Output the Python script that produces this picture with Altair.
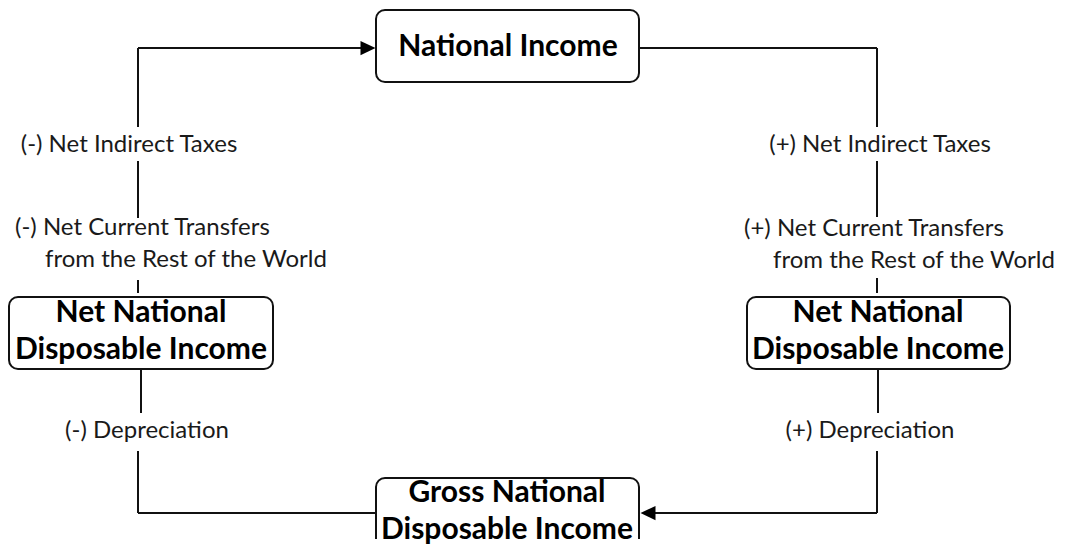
import altair as alt
import pandas as pd

# Diagram content (image pixel coordinates)
box_names = ["National Income", "Net National Disposable Income (L)",
             "Net National Disposable Income (R)", "Gross National Disposable Income"]
box_x1 = [376, 9, 747, 376]
box_x2 = [639, 273, 1010, 639]
box_y1 = [10, 297, 297, 478]
box_y2 = [82, 369, 369, 560]

seg_x1 = [138, 138, 138, 138, 141, 138, 138, 639, 877, 877, 877, 878, 877, 877]
seg_x2 = [362, 138, 138, 138, 141, 138, 376, 877, 877, 877, 877, 878, 877, 650]
seg_y1 = [48, 48, 161, 280, 369, 451, 513, 48, 48, 161, 278, 369, 451, 513]
seg_y2 = [48, 127, 218, 293, 413, 513, 513, 48, 127, 217, 293, 413, 513, 513]

arrow_x = [368, 648]
arrow_y = [48, 513]
arrow_shape = ["M-1,-0.95L1,0L-1,0.95Z", "M1,-0.95L-1,0L1,0.95Z"]

box_text = ["National Income", "Net National", "Disposable Income",
            "Net National", "Disposable Income",
            "Gross National", "Disposable Income"]
box_text_x = [508, 141, 141, 878, 878, 507, 507]
box_text_y = [47, 313, 350, 313, 350, 493, 530]

label_text = ["(-) Net Indirect Taxes", "(-) Depreciation",
              "(+) Net Indirect Taxes", "(+) Depreciation"]
label_x = [129, 147, 880, 870]
label_y = [145, 431, 145, 431]

left_text = ["(-) Net Current Transfers", "from the Rest of the World",
             "(+) Net Current Transfers", "from the Rest of the World"]
left_x = [15, 45, 744, 773]
left_y = [228, 260, 229, 261]

W, H = 1051, 531
OX, OY = 8, 8
xs = alt.Scale(domain=[OX, OX + W], range=[0, W], nice=False, zero=False)
ys = alt.Scale(domain=[OY, OY + H], range=[0, H], nice=False, zero=False)

boxes = pd.DataFrame({"name": box_names, "x1": box_x1, "x2": box_x2, "y1": box_y1, "y2": box_y2})
segs = pd.DataFrame({"x1": seg_x1, "x2": seg_x2, "y1": seg_y1, "y2": seg_y2})
arrows = pd.DataFrame({"x": arrow_x, "y": arrow_y, "shape": arrow_shape})
btxt = pd.DataFrame({"t": box_text, "x": box_text_x, "y": box_text_y})
ltxt = pd.DataFrame({"t": label_text, "x": label_x, "y": label_y})
lltxt = pd.DataFrame({"t": left_text, "x": left_x, "y": left_y})

X = lambda f: alt.X(f, type="quantitative", scale=xs, axis=None)
Y = lambda f: alt.Y(f, type="quantitative", scale=ys, axis=None)

seg_layer = alt.Chart(segs).mark_rule(color="#111111", strokeWidth=2).encode(
    x=X("x1"), x2="x2", y=Y("y1"), y2="y2")

box_layer = alt.Chart(boxes).mark_rect(
    fill="white", stroke="#111111", strokeWidth=2, cornerRadius=9, clip=True
).encode(x=X("x1"), x2="x2", y=Y("y1"), y2="y2")

arrow_layer = alt.Chart(arrows).mark_point(
    filled=True, color="#000000", size=225, opacity=1, strokeWidth=0
).encode(x=X("x"), y=Y("y"), shape=alt.Shape("shape:N", scale=None, legend=None))

btxt_layer = alt.Chart(btxt).mark_text(
    font="Lato", fontWeight="bold", fontSize=30, color="#000000", baseline="middle", align="center"
).encode(x=X("x"), y=Y("y"), text="t:N")

ltxt_layer = alt.Chart(ltxt).mark_text(
    font="Lato", fontSize=24, color="#1a1a1a", baseline="middle", align="center"
).encode(x=X("x"), y=Y("y"), text="t:N")

lltxt_layer = alt.Chart(lltxt).mark_text(
    font="Lato", fontSize=24, color="#1a1a1a", baseline="middle", align="left"
).encode(x=X("x"), y=Y("y"), text="t:N")

chart = alt.layer(seg_layer, box_layer, arrow_layer, btxt_layer, ltxt_layer, lltxt_layer).properties(
    width=W, height=H, padding=0, background="white"
).configure_view(stroke=None)

chart.save("out.html", embed_options={"renderer": "svg", "actions": False})
